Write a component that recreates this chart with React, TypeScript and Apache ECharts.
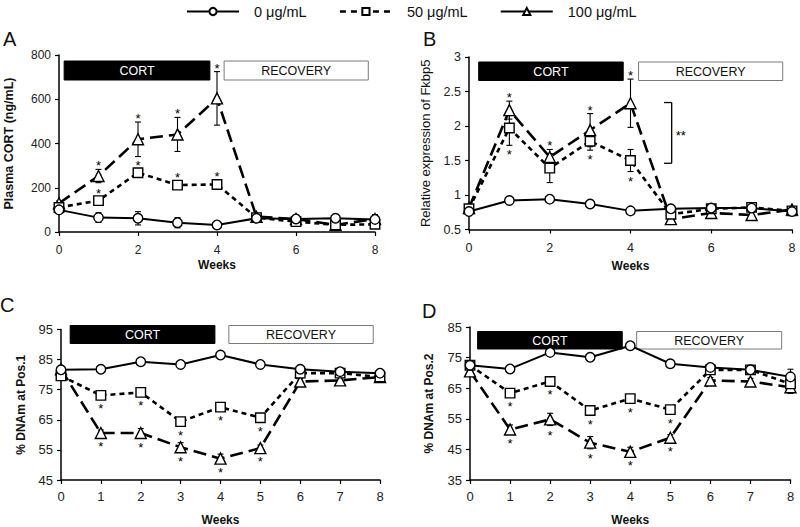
import React, { useEffect, useRef } from 'react';
import * as echarts from 'echarts';

const FONT = "'Liberation Sans', Arial, Helvetica, sans-serif";

// ---------- data ----------
const WEEKS = [0, 1, 2, 3, 4, 5, 6, 7, 8];
const DOSE_NAMES = ['0 μg/mL', '50 μg/mL', '100 μg/mL'];
const PHASE_NAMES = ['CORT', 'RECOVERY'];

// Panel A: Plasma CORT (ng/mL)
const A_0 = [100, 65, 62, 42, 32, 62, 59, 62, 57];
const A_0_ERR = [10, 22, 30, 23, 5, 8, 8, 10, 15];
const A_50 = [111, 142, 268, 212, 215, 65, 47, 32, 35];
const A_50_ERR = [8, 6, 8, 6, 6, 6, 6, 6, 6];
const A_100 = [130, 253, 419, 441, 604, 69, 59, 32, 59];
const A_100_ERR = [10, 30, 78, 77, 121, 8, 8, 8, 20];
const A_0_SIG = [0, 0, 0, 0, 0, 0, 0, 0, 0];
const A_50_SIG = [0, 1, 1, 1, 1, 0, 0, 0, 0];
const A_100_SIG = [0, 1, 1, 1, 1, 0, 0, 0, 0];
const A_PHASES = [[0.13, 3.82, 0], [4.18, 7.83, 1]];

// Panel B: Relative expression of Fkbp5
const B_0 = [0.76, 0.92, 0.94, 0.87, 0.77, 0.8, 0.81, 0.81, 0.76];
const B_0_ERR = [0, 0, 0, 0, 0, 0, 0, 0, 0];
const B_50 = [0.8, 1.97, 1.39, 1.78, 1.5, 0.72, 0.8, 0.82, 0.77];
const B_50_ERR = [0.04, 0.25, 0.21, 0.13, 0.16, 0.04, 0.04, 0.04, 0.04];
const B_100 = [0.81, 2.23, 1.55, 1.94, 2.33, 0.65, 0.74, 0.71, 0.79];
const B_100_ERR = [0.04, 0.13, 0.11, 0.24, 0.35, 0.04, 0.04, 0.04, 0.04];
const B_0_SIG = [0, 0, 0, 0, 0, 0, 0, 0, 0];
const B_50_SIG = [0, -1, 0, -1, -1, 0, 0, 0, 0];
const B_100_SIG = [0, 1, 1, 1, 1, 0, 0, 0, 0];
const B_PHASES = [[0.24, 3.82, 0], [4.2, 7.77, 1]];
const B_BRACKET = [[4.83, 5.02, 1.46, 2.34]];
const B_BRACKET_LABEL = '**';

// Panel C: % DNAm at Pos.1
const C_0 = [81.6, 81.8, 84.3, 83.4, 86.5, 83.4, 81.8, 81.0, 80.5];
const C_0_ERR = [0.5, 0.5, 0.5, 0.5, 0.5, 0.5, 0.5, 0.5, 0.8];
const C_50 = [79.6, 73.1, 74.1, 64.4, 69.2, 65.7, 80.5, 80.5, 79.2];
const C_50_ERR = [1, 1, 1, 1, 1, 1, 1, 1, 1];
const C_100 = [81.8, 60.6, 60.6, 55.9, 52.1, 55.6, 77.7, 78.1, 79.2];
const C_100_ERR = [1, 1, 1.5, 1.5, 1.5, 1, 1, 1, 1];
const C_0_SIG = [0, 0, 0, 0, 0, 0, 0, 0, 0];
const C_50_SIG = [0, -1, -1, -1, -1, -1, 0, 0, 0];
const C_100_SIG = [0, -1, -1, -1, -1, -1, 0, 0, 0];
const C_PHASES = [[0.23, 3.86, 0], [4.21, 7.83, 1]];

// Panel D: % DNAm at Pos.2
const D_0 = [72.5, 71.3, 76.7, 75.1, 78.9, 73.0, 71.8, 71.0, 68.7];
const D_0_ERR = [0.5, 0.5, 0.5, 0.5, 0.5, 0.5, 0.5, 0.5, 2.5];
const D_50 = [72.5, 63.4, 67.2, 57.7, 61.6, 58.0, 71.0, 71.0, 66.4];
const D_50_ERR = [1, 1, 1, 1, 1, 1, 1, 1, 1];
const D_100 = [70.5, 51.5, 54.8, 47.2, 44.2, 48.8, 67.5, 67.2, 65.3];
const D_100_ERR = [1, 1.5, 2, 2, 1.5, 1, 1, 1, 2];
const D_0_SIG = [0, 0, 0, 0, 0, 0, 0, 0, 0];
const D_50_SIG = [0, -1, -1, -1, -1, -1, 0, 0, 0];
const D_100_SIG = [0, -1, -1, -1, -1, -1, 0, 0, 0];
const D_PHASES = [[0.19, 3.8, 0], [4.16, 7.78, 1]];

// ---------- layout / styles ----------
const PANELS = [
  {
    letter: 'A', letterX: 3, letterY: 40,
    grid: { left: 59, top: 55, width: 316, height: 177 },
    yMin: 0, yMax: 800, yInt: 200, xInt: 2,
    yName: 'Plasma CORT (ng/mL)', yNameBold: true, yNameSize: 12.5, yNameGap: 44,
    labelSize: 12, xLabelMargin: 12, xNameGap: 27, boxTop: 6, boxH: 19,
    vals: [A_0, A_50, A_100], errs: [A_0_ERR, A_50_ERR, A_100_ERR], sigs: [A_0_SIG, A_50_SIG, A_100_SIG],
    phases: A_PHASES,
  },
  {
    letter: 'B', letterX: 423, letterY: 40,
    grid: { left: 469, top: 57, width: 323, height: 172.5 },
    yMin: 0.5, yMax: 3, yInt: 0.5, xInt: 2,
    yName: 'Relative expression of Fkbp5', yNameBold: false, yNameSize: 13, yNameGap: 37,
    labelSize: 12.5, xLabelMargin: 12, xNameGap: 30, boxTop: 5, boxH: 18.5,
    vals: [B_0, B_50, B_100], errs: [B_0_ERR, B_50_ERR, B_100_ERR], sigs: [B_0_SIG, B_50_SIG, B_100_SIG],
    phases: B_PHASES,
  },
  {
    letter: 'C', letterX: 0, letterY: 306,
    grid: { left: 61, top: 329.5, width: 319, height: 152.5 },
    yMin: 45, yMax: 95, yInt: 10, xInt: 1,
    yName: '% DNAm at Pos.1', yNameBold: true, yNameSize: 12, yNameGap: 34,
    labelSize: 13, xLabelMargin: 10, xNameGap: 34, boxTop: -4, boxH: 18,
    vals: [C_0, C_50, C_100], errs: [C_0_ERR, C_50_ERR, C_100_ERR], sigs: [C_0_SIG, C_50_SIG, C_100_SIG],
    phases: C_PHASES,
  },
  {
    letter: 'D', letterX: 422, letterY: 311.5,
    grid: { left: 470, top: 327, width: 320.5, height: 153.5 },
    yMin: 35, yMax: 85, yInt: 10, xInt: 1,
    yName: '% DNAm at Pos.2', yNameBold: true, yNameSize: 12, yNameGap: 35,
    labelSize: 13, xLabelMargin: 10, xNameGap: 34, boxTop: 4.5, boxH: 17.5,
    vals: [D_0, D_50, D_100], errs: [D_0_ERR, D_50_ERR, D_100_ERR], sigs: [D_0_SIG, D_50_SIG, D_100_SIG],
    phases: D_PHASES,
  },
];

const LINE_STYLES = [
  { type: 'solid', width: 2 },
  { type: [5, 4], width: 2.6 },
  { type: [13, 6], width: 2.6 },
];
const LEGEND_LINE_STYLES = [
  { type: 'solid', width: 2 },
  { type: [6, 5], width: 2.5 },
  { type: 'solid', width: 2.2 },
];
const SYMBOLS = ['circle', 'rect', 'triangle'];
const SYMBOL_SIZES = [9.5, 9.5, 11];

function errRender(params: any, api: any) {
  const x = api.value(0), y = api.value(1), e = api.value(2);
  const c = api.coord([x, y]);
  const t = api.coord([x, y + e]);
  const b = api.coord([x, y - e]);
  const children: any[] = [];
  if (e > 0 && b[1] - t[1] > 2) {
    const st = { stroke: '#000', lineWidth: 1.1 };
    children.push({ type: 'line', shape: { x1: c[0], y1: t[1], x2: c[0], y2: b[1] }, style: st });
    children.push({ type: 'line', shape: { x1: c[0] - 3, y1: t[1], x2: c[0] + 3, y2: t[1] }, style: st });
    children.push({ type: 'line', shape: { x1: c[0] - 3, y1: b[1], x2: c[0] + 3, y2: b[1] }, style: st });
  }
  return { type: 'group', children };
}

function starRender(params: any, api: any) {
  const x = api.value(0), y = api.value(1), e = api.value(2), s = api.value(3);
  const c = api.coord([x, y]);
  const t = api.coord([x, y + e]);
  const b = api.coord([x, y - e]);
  const children: any[] = [];
  if (s === 1 || s === -1) {
    const vy = s === 1 ? Math.min(t[1], c[1] - 4) - 6.5 : Math.max(b[1], c[1] + 4) + 6.5;
    children.push({
      type: 'text',
      style: { text: '*', x: c[0], y: vy + 3, align: 'center', verticalAlign: 'middle', fontSize: 13, fontFamily: FONT, fill: '#000' },
    });
  }
  return { type: 'group', children };
}

function makeBoxRender(p: any) {
  return (params: any, api: any) => {
    const x0 = api.coord([api.value(0), p.yMin])[0];
    const x1 = api.coord([api.value(1), p.yMin])[0];
    const kind = api.value(2);
    const top = params.coordSys.y + p.boxTop;
    return {
      type: 'group',
      children: [
        {
          type: 'rect',
          shape: { x: x0, y: top, width: x1 - x0, height: p.boxH },
          style: { fill: kind === 0 ? '#000' : '#fff', stroke: kind === 0 ? '#000' : '#7a7a7a', lineWidth: 1 },
        },
        {
          type: 'text',
          style: {
            text: PHASE_NAMES[kind], x: (x0 + x1) / 2, y: top + p.boxH / 2 + 0.5,
            align: 'center', verticalAlign: 'middle', fontSize: 12.5, fontFamily: FONT,
            fill: kind === 0 ? '#fff' : '#111',
          },
        },
      ],
    };
  };
}

function bracketRender(params: any, api: any) {
  const xa = api.value(0), xb = api.value(1), y0 = api.value(2), y1 = api.value(3);
  const pLow = api.coord([xb, y0]);
  const pHigh = api.coord([xb, y1]);
  const xl = api.coord([xa, y0])[0];
  const st = { stroke: '#000', lineWidth: 1.3 };
  return {
    type: 'group',
    children: [
      { type: 'line', shape: { x1: pLow[0], y1: pLow[1], x2: pHigh[0], y2: pHigh[1] }, style: st },
      { type: 'line', shape: { x1: xl, y1: pLow[1], x2: pLow[0], y2: pLow[1] }, style: st },
      { type: 'line', shape: { x1: xl, y1: pHigh[1], x2: pHigh[0], y2: pHigh[1] }, style: st },
      {
        type: 'text',
        style: {
          text: B_BRACKET_LABEL, x: pLow[0] + 4, y: (pLow[1] + pHigh[1]) / 2 + 3,
          align: 'left', verticalAlign: 'middle', fontSize: 13, fontFamily: FONT, fill: '#000',
        },
      },
    ],
  };
}

function buildOption() {
  const grids: any[] = [];
  const xAxes: any[] = [];
  const yAxes: any[] = [];
  const series: any[] = [];
  const graphics: any[] = [];

  PANELS.forEach((p, pi) => {
    grids.push({ ...p.grid, containLabel: false });
    xAxes.push({
      type: 'value', gridIndex: pi, min: 0, max: 8, interval: p.xInt,
      name: 'Weeks', nameLocation: 'middle', nameGap: p.xNameGap,
      nameTextStyle: { fontSize: 12, fontWeight: 'bold', fontFamily: FONT, color: '#111' },
      axisLine: { show: true, lineStyle: { color: '#000', width: 1.5 } },
      axisTick: { show: true, inside: false, length: 4, lineStyle: { color: '#000', width: 1.2 } },
      axisLabel: { fontSize: p.labelSize, fontFamily: FONT, color: '#222', margin: p.xLabelMargin },
      splitLine: { show: false },
    });
    yAxes.push({
      type: 'value', gridIndex: pi, min: p.yMin, max: p.yMax, interval: p.yInt,
      name: p.yName, nameLocation: 'middle', nameGap: p.yNameGap, nameRotate: 90,
      nameTextStyle: { fontSize: p.yNameSize, fontWeight: p.yNameBold ? 'bold' : 'normal', fontFamily: FONT, color: '#111' },
      axisLine: { show: true, lineStyle: { color: '#000', width: 1.5 } },
      axisTick: { show: true, inside: false, length: 4, lineStyle: { color: '#000', width: 1.2 } },
      axisLabel: { fontSize: p.labelSize, fontFamily: FONT, color: '#222', margin: 8 },
      splitLine: { show: false },
    });

    // phase boxes
    series.push({
      type: 'custom', name: 'phase' + pi, xAxisIndex: pi, yAxisIndex: pi, z: 1,
      renderItem: makeBoxRender(p), data: p.phases, clip: false, silent: true,
    });

    // error bars
    [2, 1, 0].forEach((k) => {
      series.push({
        type: 'custom', name: 'err' + pi + '_' + k, xAxisIndex: pi, yAxisIndex: pi, z: 2,
        renderItem: errRender, clip: false, silent: true,
        data: WEEKS.map((w, i) => [w, p.vals[k][i], p.errs[k][i], p.sigs[k][i]]),
      });
    });

    // lines
    [2, 1, 0].forEach((k) => {
      series.push({
        type: 'line', name: DOSE_NAMES[k], xAxisIndex: pi, yAxisIndex: pi, z: 3 + (2 - k) * 0.1,
        data: WEEKS.map((w, i) => [w, p.vals[k][i]]),
        symbol: SYMBOLS[k], symbolSize: SYMBOL_SIZES[k], showAllSymbol: true,
        lineStyle: { color: '#000', type: LINE_STYLES[k].type, width: LINE_STYLES[k].width },
        itemStyle: { color: '#fff', borderColor: '#000', borderWidth: 1.4 },
        emphasis: { disabled: true },
        silent: true,
      });
    });

    // significance stars
    [2, 1, 0].forEach((k) => {
      series.push({
        type: 'custom', name: 'sig' + pi + '_' + k, xAxisIndex: pi, yAxisIndex: pi, z: 6,
        renderItem: starRender, clip: false, silent: true,
        data: WEEKS.map((w, i) => [w, p.vals[k][i], p.errs[k][i], p.sigs[k][i]]),
      });
    });

    graphics.push({
      type: 'text', left: p.letterX, top: p.letterY - 11,
      style: { text: p.letter, fontSize: 20, fontFamily: FONT, fill: '#111' },
    });
  });

  series.push({
    type: 'custom', name: 'bracket', xAxisIndex: 1, yAxisIndex: 1, z: 5,
    renderItem: bracketRender, data: B_BRACKET, clip: false, silent: true,
  });

  return {
    animation: false,
    backgroundColor: '#fff',
    textStyle: { fontFamily: FONT },
    grid: grids,
    xAxis: xAxes,
    yAxis: yAxes,
    legend: {
      data: DOSE_NAMES.map((n, k) => ({
        name: n,
        lineStyle: { type: LEGEND_LINE_STYLES[k].type, width: LEGEND_LINE_STYLES[k].width, color: '#000' },
      })),
      left: 181, top: -1, itemWidth: 52, itemHeight: 9, itemGap: 32,
      selectedMode: false,
      textStyle: { fontSize: 14.5, color: '#111', fontFamily: FONT, padding: [0, 0, 0, 10] },
    },
    graphic: graphics,
    series,
  };
}

export default function App() {
  const ref = useRef<HTMLDivElement>(null);
  useEffect(() => {
    if (!ref.current) return;
    const chart = echarts.init(ref.current, undefined, { renderer: 'svg' });
    chart.setOption(buildOption() as any);
    return () => chart.dispose();
  }, []);
  return (
    <div
      ref={ref}
      style={{ position: 'fixed', left: 0, top: 0, width: 800, height: 527, background: '#fff' }}
    />
  );
}
